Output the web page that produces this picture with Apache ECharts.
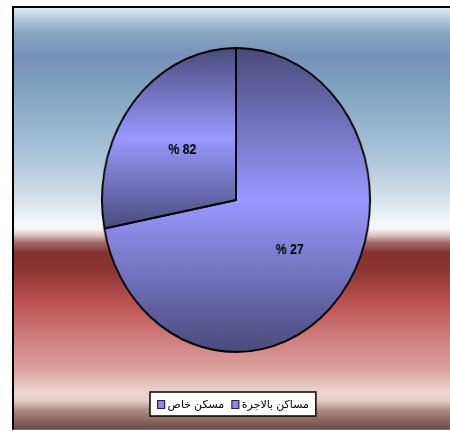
<!DOCTYPE html>
<html>
<head>
<meta charset="utf-8">
<script src="https://cdn.jsdelivr.net/npm/echarts@6/dist/echarts.min.js"></script>
<style>
  html, body { margin: 0; padding: 0; background: #fff; }
  #wrap { position: relative; width: 450px; height: 431px; overflow: hidden; background: #fff; }
  #frame {
    position: absolute; left: 12px; top: 6px; width: 445px; height: 421px;
    border-left: 2px solid #000; border-top: 2px solid #000; border-bottom: 1px solid #777;
    background: linear-gradient(to bottom,
      #dce9f3 0%, #aec4d6 3%, #88a6c2 6%, #7890b8 11.4%, #80a4c2 19.7%,
      #a8c2d6 34%, #ccdae6 43.5%, #f4f7fa 51%, #f8f4f4 52.5%, #d8c0c0 54%,
      #a06868 55.8%, #853030 58.2%, #8e3535 62.5%, #ba5050 69.6%, #d08080 79%,
      #dca4a0 86%, #ecd8d0 91.4%, #e4ccc4 93.3%, #a88880 95.7%, #6e4a46 100%);
  }
  #pie { position: absolute; left: 66px; top: 0; width: 340px; height: 431px;
         transform: scaleX(0.882); transform-origin: 170px 200px; }
  #leg { position: absolute; left: 0; top: 0; width: 450px; height: 431px; }
</style>
</head>
<body>
<div id="wrap">
  <div id="frame"></div>
  <div id="pie"></div>
  <div id="leg"></div>
</div>
<script>
// Data
const categories = ['مساكن بالاجرة', 'مسكن خاص'];
const values = [72, 28];
const valueLabels = ['% 27', '% 82'];
const legendOrder = ['مسكن خاص', 'مساكن بالاجرة'];

const sliceFill = {
  type: 'linear', x: 0, y: 0, x2: 0, y2: 1,
  colorStops: [
    { offset: 0, color: '#4a4a7a' },
    { offset: 0.5, color: '#9999ff' },
    { offset: 1, color: '#4a4a7a' }
  ]
};

const pieData = categories.map((c, i) => ({ name: c, value: values[i], label: { formatter: valueLabels[i] } }));

const pieChart = echarts.init(document.getElementById('pie'), null, { renderer: 'canvas' });
pieChart.setOption({
  animation: false,
  series: [{
    type: 'pie',
    center: [170, 200],
    radius: [0, 152],
    startAngle: 90,
    clockwise: true,
    avoidLabelOverlap: false,
    itemStyle: { color: sliceFill, borderColor: '#000', borderWidth: 2 },
    label: {
      show: true, position: 'inside',
      color: '#000', fontFamily: 'Arial, Liberation Sans, sans-serif',
      fontWeight: 'bold', fontSize: 14
    },
    labelLine: { show: false },
    emphasis: { disabled: true },
    data: pieData
  }]
});

const legChart = echarts.init(document.getElementById('leg'), null, { renderer: 'canvas' });
legChart.setOption({
  animation: false,
  legend: {
    data: legendOrder,
    left: 150, top: 392,
    padding: [7, 7, 6, 7],
    backgroundColor: '#fff',
    borderColor: '#000', borderWidth: 1.5, borderRadius: 0,
    icon: 'rect', itemWidth: 7, itemHeight: 8, itemGap: 7,
    itemStyle: { color: '#8a8ae8', borderColor: '#22224a', borderWidth: 1.2 },
    textStyle: { color: '#000', fontSize: 11, fontFamily: 'Arial, DejaVu Sans, sans-serif', padding: [0, 0, 0, -2] },
    selectedMode: false
  },
  series: [{
    type: 'pie', radius: [0, 0], center: [-100, -100],
    label: { show: false }, labelLine: { show: false }, silent: true,
    itemStyle: { color: '#8a8ae8' },
    data: categories.map((c, i) => ({ name: c, value: values[i] }))
  }]
});
</script>
</body>
</html>
